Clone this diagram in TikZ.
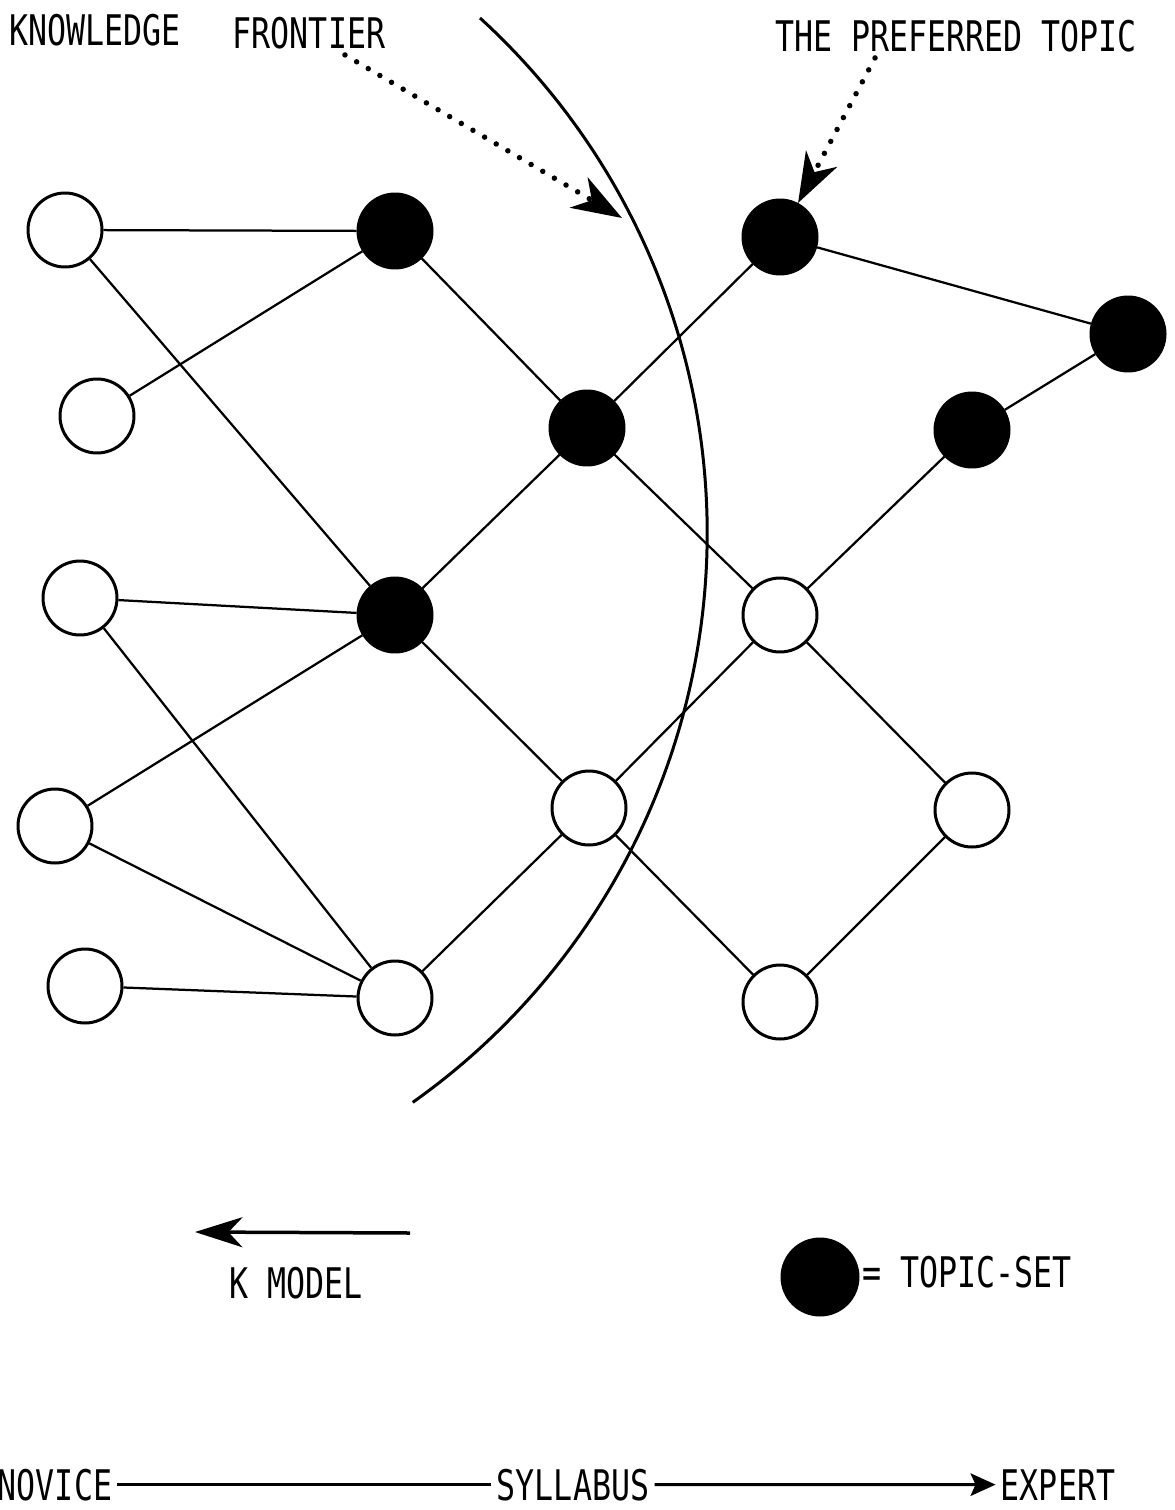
\documentclass[tikz,border=0pt]{standalone}
\usepackage{fontspec}
\newfontfamily\typefont[FakeStretch=0.75]{DejaVu Sans Mono}
\usetikzlibrary{arrows.meta}

\begin{document}
\begin{tikzpicture}[
    x=0.02cm, y=-0.02cm,
    known/.style={circle, draw, line width=0.06cm, minimum size=1.48cm, inner sep=0pt},
    topic/.style={known, fill=black},
    link/.style={line width=0.045cm},
    caption/.style={font=\typefont\fontsize{24}{24}\selectfont, inner sep=0.1cm, anchor=base},
    pointer/.style={line width=0.11cm, line cap=round, dash pattern=on 0pt off 0.27cm,
        -{Stealth[length=1cm, width=0.7cm, inset=0.3cm]}}
]
    \useasboundingbox (0,0) rectangle (1174,1510);

    % Topics in five columns, novice side on the left:
    % filled circles belong to the topic-set.
    \node[known] (a1) at (65,230) {};
    \node[known] (a2) at (97,416) {};
    \node[known] (a3) at (80,598) {};
    \node[known] (a4) at (55,826) {};
    \node[known] (a5) at (85,986) {};
    \node[topic] (b1) at (395,231) {};
    \node[topic] (b2) at (395,615) {};
    \node[known] (b3) at (395,998) {};
    \node[topic] (c1) at (587,428) {};
    \node[known] (c2) at (589,808) {};
    \node[topic] (d1) at (780,237) {};
    \node[known] (d2) at (780,615) {};
    \node[known] (d3) at (780,1002) {};
    \node[topic] (e1) at (972,430) {};
    \node[known] (e2) at (972,810) {};
    \node[topic] (f1) at (1128,334) {};

    \path[link]
        (a1) edge (b1)
        (a1) edge (b2)
        (a2) edge (b1)
        (a3) edge (b2)
        (a3) edge (b3)
        (a4) edge (b2)
        (a4) edge (b3)
        (a5) edge (b3)
        (b1) edge (c1)
        (b2) edge (c1)
        (b2) edge (c2)
        (b3) edge (c2)
        (c1) edge (d1)
        (c1) edge (d2)
        (c2) edge (d2)
        (c2) edge (d3)
        (d1) edge (f1)
        (e1) edge (f1)
        (d2) edge (e1)
        (d2) edge (e2)
        (d3) edge (e2);

    % Knowledge frontier
    \coordinate (arctop) at (480,18);
    \draw[line width=0.06cm] (arctop) arc[start angle=47.6, end angle=-54.7, radius=13.954cm];

    \node[caption] (knowledge) at (95,46) {KNOWLEDGE};
    \node[caption] (frontier) at (309,49) {FRONTIER};
    \node[caption] (preferred) at (956,52) {THE PREFERRED TOPIC};
    \coordinate (fronttip) at (622,218);
    \draw[pointer] ([xshift=0.72cm]frontier.south) -- (fronttip);
    \draw[pointer] ([xshift=-1.62cm]preferred.south) -- (d1);

    % K model direction and legend
    \coordinate (kstart) at (410,1233);
    \coordinate (kend) at (195,1232);
    \draw[line width=0.07cm, -{Stealth[length=0.95cm, width=0.6cm, inset=0.28cm]}] (kstart) -- (kend);
    \node[caption] (kmodel) at (296,1298) {K MODEL};
    \node[topic, minimum size=1.52cm] (legend) at (820,1277) {};
    \node[caption, anchor=base west, inner sep=0pt] (topicset) at (862,1287) {= TOPIC-SET};

    % Syllabus axis
    \node[caption] (novice) at (55,1500) {NOVICE};
    \node[caption] (syllabus) at (573,1500) {SYLLABUS};
    \node[caption] (expert) at (1058,1500) {EXPERT};
    \draw[line width=0.06cm] (novice.east) -- (syllabus.west);
    \draw[line width=0.06cm, -{Stealth[length=0.5cm, width=0.45cm, inset=0.1cm]}] (syllabus.east) -- (expert.west);
\end{tikzpicture}
\end{document}
